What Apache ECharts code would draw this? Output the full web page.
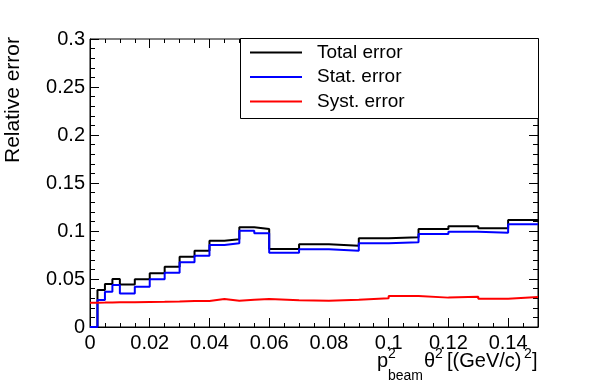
<!DOCTYPE html>
<html>
<head>
<meta charset="utf-8">
<script src="https://cdn.jsdelivr.net/npm/echarts@6/dist/echarts.min.js"></script>
<style>
  html, body { margin: 0; padding: 0; background: #fff; }
  #chart { width: 598px; height: 386px; }
</style>
</head>
<body>
<div id="chart"></div>
<script>
// bin edges (variable width) and per-bin relative errors
const binEdges = [0, 0.0025, 0.005, 0.0075, 0.01, 0.015, 0.02, 0.025, 0.03, 0.035, 0.04, 0.045,
  0.05, 0.055, 0.06, 0.07, 0.08, 0.09, 0.1, 0.11, 0.12, 0.13, 0.14, 0.15];
const totalErr = [0, 0.0385, 0.0448, 0.050, 0.0444, 0.0497, 0.056, 0.0628, 0.0733, 0.0795, 0.0899, 0.0913,
  0.1038, 0.102, 0.0812, 0.0861, 0.0847, 0.0924, 0.0934, 0.102, 0.1049, 0.1028, 0.1115];
const statErr = [0, 0.028, 0.0368, 0.0437, 0.035, 0.042, 0.0497, 0.0566, 0.0674, 0.0743, 0.0854, 0.0872,
  0.1003, 0.0976, 0.0774, 0.0809, 0.0795, 0.0872, 0.0882, 0.0969, 0.0993, 0.0983, 0.107];
const systErr = [0.0253, 0.0254, 0.0256, 0.0257, 0.0258, 0.026, 0.0262, 0.0265, 0.027, 0.0272, 0.0292, 0.0274,
  0.0284, 0.0292, 0.0278, 0.0274, 0.0285, 0.0299, 0.0323, 0.0306, 0.0316, 0.0295, 0.0313];
const seriesNames = ['Total error', 'Stat. error', 'Syst. error'];
const xTicks = [0, 0.15, 0.02, 0.005];   // min, max, major, minor
const yTicks = [0, 0.3, 0.05];

const FONT = 'Liberation Sans, Arial, Helvetica, sans-serif';

// histogram outline: value of bin i holds from edge i to edge i+1
function toSteps(vals) {
  const pts = vals.map((v, i) => [binEdges[i], v]);
  pts.push([binEdges[vals.length], vals[vals.length - 1]]);
  return pts;
}

function xAxisDef(pos, interval, len, labels) {
  return {
    type: 'value', position: pos, min: xTicks[0], max: xTicks[1], interval: interval,
    axisLine: { show: labels, onZero: false, lineStyle: { color: '#000', width: 1 } },
    axisTick: { show: true, inside: true, length: len, lineStyle: { color: '#000' } },
    axisLabel: { show: labels, fontSize: 20, color: '#000', fontFamily: FONT, margin: 6, showMaxLabel: false },
    splitLine: { show: false }
  };
}
function yAxisDef(pos, labels) {
  return {
    type: 'value', position: pos, min: yTicks[0], max: yTicks[1], interval: yTicks[2],
    axisLine: { show: true, onZero: false, lineStyle: { color: '#000', width: 1 } },
    axisTick: { show: true, inside: true, length: 9, lineStyle: { color: '#000' } },
    minorTick: { show: true, splitNumber: 5, length: 5, lineStyle: { color: '#000' } },
    axisLabel: { show: labels, fontSize: 20, color: '#000', fontFamily: FONT, margin: 5 },
    splitLine: { show: false }
  };
}

// superscript / subscript pieces of the x title (baseline-centred text)
function txt(x, y, s, size) {
  return { type: 'text', x: x, y: y,
    style: { text: s, fontSize: size, fontFamily: FONT, fill: '#000', verticalAlign: 'middle' } };
}

const chart = echarts.init(document.getElementById('chart'), null, { renderer: 'canvas' });
const colors = ['#000000', '#0000ff', '#ff0000'];
const allData = [totalErr, statErr, systErr];

chart.setOption({
  animation: false,
  backgroundColor: '#fff',
  grid: { left: 90, top: 39, right: 60, bottom: 59, show: true, borderColor: '#000', borderWidth: 1 },
  xAxis: [
    xAxisDef('bottom', xTicks[2], 9, true),
    xAxisDef('bottom', xTicks[3], 4, false),
    xAxisDef('top', xTicks[2], 9, false),
    xAxisDef('top', xTicks[3], 4, false)
  ],
  yAxis: [yAxisDef('left', true), yAxisDef('right', false)],
  legend: {
    orient: 'vertical', left: 250, top: 43, padding: 0,
    icon: 'rect', itemWidth: 52, itemHeight: 2, itemGap: 5.5,
    data: seriesNames,
    textStyle: { fontSize: 19, color: '#000', fontFamily: FONT, padding: [0, 0, 0, 10], lineHeight: 19 },
    z: 10
  },
  graphic: [
    { type: 'rect', shape: { x: 240.5, y: 38.5, width: 298, height: 80 },
      style: { fill: '#fff', stroke: '#000', lineWidth: 1 }, z: 5 },
    { type: 'text', x: 13, y: 100, rotation: Math.PI / 2,
      style: { text: 'Relative error', fontSize: 21, fontFamily: FONT, fill: '#000', align: 'center', verticalAlign: 'middle' } },
    txt(377, 361, 'p', 20),
    txt(388, 354, '2', 14),
    txt(388, 376, 'beam', 14),
    txt(424, 361, 'θ', 20),
    txt(435, 354, '2', 14),
    txt(447, 361, '[(GeV/c)', 20),
    txt(524, 354, '2', 14),
    txt(532, 361, ']', 20)
  ],
  series: seriesNames.map((name, i) => ({
    name: name,
    type: 'line',
    step: 'end',
    symbol: 'none',
    xAxisIndex: 0,
    yAxisIndex: 0,
    color: colors[i],
    lineStyle: { color: colors[i], width: 2 },
    data: toSteps(allData[i])
  }))
});
</script>
</body>
</html>
